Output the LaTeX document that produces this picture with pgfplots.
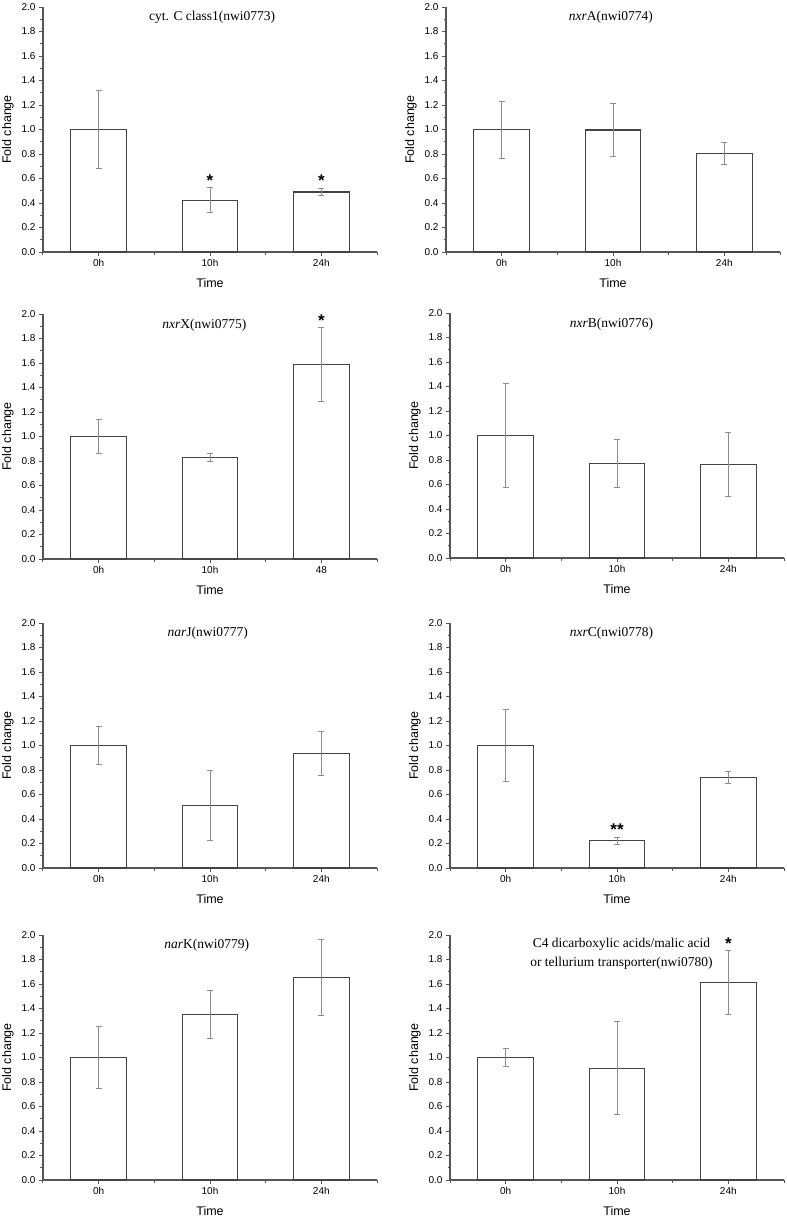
\documentclass[border=0pt]{standalone}
\usepackage{fontspec}
\setmainfont{Liberation Sans}
\newfontfamily\tnr{Liberation Serif}
\usepackage{pgfplots}
\pgfplotsset{compat=1.18}
\definecolor{barc}{HTML}{444444}
\definecolor{errc}{HTML}{8C8C8C}
\definecolor{axc}{HTML}{555555}
\tikzset{
  ttl/.style={font=\tnr\fontsize{13.5}{19}\selectfont, align=center, anchor=center},
  star/.style={font=\bfseries\fontsize{17}{17}\selectfont, anchor=center},
}
\pgfplotsset{
  panel/.style={
    scale only axis, width=334pt, height=245pt, anchor=south west,
    xmin=0, xmax=3, ymin=0, ymax=2,
    axis x line=bottom, axis y line=left,
    axis line style={-, axc, line width=1.1pt},
    xtick={0.5,1.5,2.5}, minor xtick={0,1,2,3},
    ytick={0,0.2,0.4,0.6,0.8,1.0,1.2,1.4,1.6,1.8,2.0},
    yticklabels={0.0,0.2,0.4,0.6,0.8,1.0,1.2,1.4,1.6,1.8,2.0},
    minor y tick num=1,
    tick align=outside, tick pos=left,
    major tick length=4pt, minor tick length=2.5pt,
    every tick/.style={axc, line width=1pt},
    tick label style={font=\fontsize{10}{12}\selectfont},
    /pgf/number format/assume math mode=true,
    xlabel={Time}, ylabel={Fold change},
    label style={font=\fontsize{12.5}{14}\selectfont},
    xlabel style={at={(axis description cs:0.5,0)}, anchor=center, yshift=-31pt},
    ylabel style={at={(axis description cs:-0.105,0.5)}, anchor=center},
    ybar, bar width=0.5, clip=false,
  },
  bars/.style={draw=barc, fill=white, line width=1.1pt,
    error bars/.cd, y dir=both, y explicit,
    error bar style={errc, line width=0.9pt},
    error mark options={errc, line width=0.9pt, mark size=3pt, rotate=90}},
}
\begin{document}
\begin{tikzpicture}
\useasboundingbox (0,0) rectangle (787pt,-1219pt);
% Panel 1
\begin{axis}[panel, at={(43pt,-252pt)}, xticklabels={0h,10h,24h}]
\addplot[bars] coordinates {(0.5,1.00) +- (0,0.316) (1.5,0.422) += (0,0.105) -= (0,0.101) (2.5,0.49) +- (0,0.03)};
\node[ttl] at (axis cs:1.52,1.918) {cyt. C class1(nwi0773)};
\node[star] at (axis cs:1.5,0.58) {*};
\node[star] at (axis cs:2.5,0.58) {*};
\end{axis}
% Panel 2
\begin{axis}[panel, at={(446pt,-252pt)}, xticklabels={0h,10h,24h}]
\addplot[bars] coordinates {(0.5,1.00) +- (0,0.233) (1.5,0.996) +- (0,0.213) (2.5,0.805) += (0,0.09) -= (0,0.087)};
\node[ttl] at (axis cs:1.48,1.918) {\textit{nxr}A(nwi0774)};
\end{axis}
% Panel 3
\begin{axis}[panel, at={(43pt,-559pt)}, xticklabels={0h,10h,48}]
\addplot[bars] coordinates {(0.5,1.00) +- (0,0.142) (1.5,0.828) +- (0,0.03) (2.5,1.586) += (0,0.302) -= (0,0.303)};
\node[ttl] at (axis cs:1.45,1.91) {\textit{nxr}X(nwi0775)};
\node[star] at (axis cs:2.5,1.945) {*};
\end{axis}
% Panel 4
\begin{axis}[panel, at={(450pt,-558pt)}, xticklabels={0h,10h,24h}]
\addplot[bars] coordinates {(0.5,1.00) +- (0,0.425) (1.5,0.772) +- (0,0.197) (2.5,0.766) +- (0,0.26)};
\node[ttl] at (axis cs:1.45,1.91) {\textit{nxr}B(nwi0776)};
\end{axis}
% Panel 5
\begin{axis}[panel, at={(43pt,-868pt)}, xticklabels={0h,10h,24h}]
\addplot[bars] coordinates {(0.5,1.00) +- (0,0.155) (1.5,0.507) += (0,0.289) -= (0,0.281) (2.5,0.932) += (0,0.182) -= (0,0.177)};
\node[ttl] at (axis cs:1.48,1.92) {\textit{nar}J(nwi0777)};
\end{axis}
% Panel 6
\begin{axis}[panel, at={(450pt,-868pt)}, xticklabels={0h,10h,24h}]
\addplot[bars] coordinates {(0.5,1.00) +- (0,0.293) (1.5,0.221) +- (0,0.028) (2.5,0.738) +- (0,0.048)};
\node[ttl] at (axis cs:1.45,1.92) {\textit{nxr}C(nwi0778)};
\node[star] at (axis cs:1.5,0.31) {**};
\end{axis}
% Panel 7
\begin{axis}[panel, at={(43pt,-1180pt)}, xticklabels={0h,10h,24h}]
\addplot[bars] coordinates {(0.5,1.00) +- (0,0.254) (1.5,1.351) +- (0,0.194) (2.5,1.656) +- (0,0.311)};
\node[ttl] at (axis cs:1.47,1.92) {\textit{nar}K(nwi0779)};
\end{axis}
% Panel 8
\begin{axis}[panel, at={(450pt,-1180pt)}, xticklabels={0h,10h,24h}]
\addplot[bars] coordinates {(0.5,1.00) +- (0,0.07) (1.5,0.912) +- (0,0.38) (2.5,1.615) += (0,0.26) -= (0,0.262)};
\node[ttl] at (axis cs:1.54,1.845) {C4 dicarboxylic acids/malic acid\\or tellurium transporter(nwi0780)};
\node[star] at (axis cs:2.5,1.93) {*};
\end{axis}
\end{tikzpicture}
\end{document}
